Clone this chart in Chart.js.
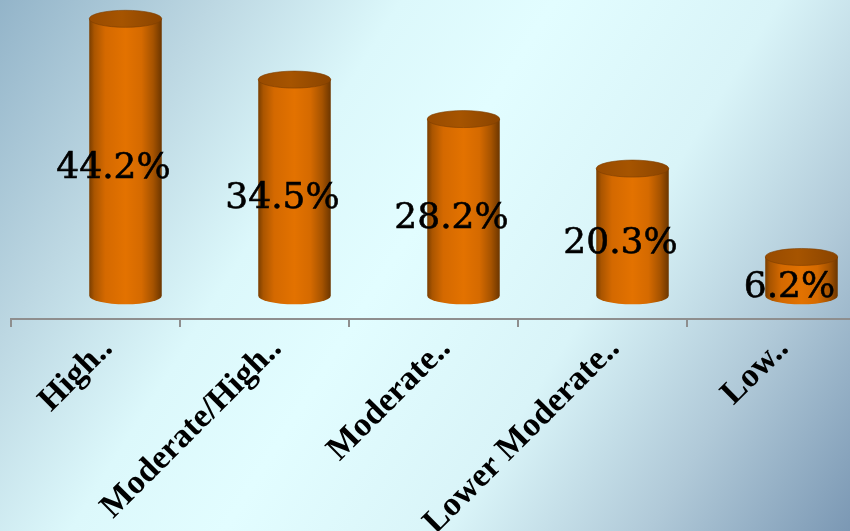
<!DOCTYPE html>
<html>
<head>
<meta charset="utf-8">
<script src="https://cdn.jsdelivr.net/npm/chart.js@4.4.1/dist/chart.umd.min.js"></script>
<style>
  html, body { margin: 0; padding: 0; background: #dff9fc; overflow: hidden; }
  #wrap { width: 850px; height: 531px; position: relative; overflow: hidden; }
  canvas { display: block; }
</style>
</head>
<body>
<div id="wrap"><canvas id="c" width="856" height="531"></canvas></div>
<script>
// ---- data ----
const categories = ['High..', 'Moderate/High..', 'Moderate..', 'Lower Moderate..', 'Low..'];
const values = [44.2, 34.5, 28.2, 20.3, 6.2];
const valueLabels = ['44.2%', '34.5%', '28.2%', '20.3%', '6.2%'];

// ---- plugins ----
const backgroundPlugin = {
  id: 'bg',
  beforeDraw(chart) {
    const { ctx } = chart;
    const width = 850, height = 531;
    const g = ctx.createLinearGradient(0, 0, width, height);
    g.addColorStop(0, '#93b4c9');
    g.addColorStop(0.18, '#bcd7e2');
    g.addColorStop(0.34, '#dcf8fb');
    g.addColorStop(0.47, '#e2fdff');
    g.addColorStop(0.66, '#d9f4f8');
    g.addColorStop(0.83, '#b0c9d8');
    g.addColorStop(1, '#7b98b4');
    ctx.save();
    ctx.fillStyle = g;
    ctx.fillRect(0, 0, chart.width, chart.height);
    ctx.restore();
  }
};

const DEPTH_SHIFT = 30;
const cylinderPlugin = {
  id: 'cyl',
  afterDatasetsDraw(chart) {
    const { ctx } = chart;
    const meta = chart.getDatasetMeta(0);
    ctx.save();
    meta.data.forEach((el) => {
      const cx = el.x + DEPTH_SHIFT;
      const rx = el.width / 2;
      const ry = 8.5;
      const top = el.y;
      const base = el.base;
      // body
      const g = ctx.createLinearGradient(cx - rx, 0, cx + rx, 0);
      g.addColorStop(0, '#7a3e00');
      g.addColorStop(0.07, '#aa5500');
      g.addColorStop(0.22, '#d46900');
      g.addColorStop(0.5, '#e37200');
      g.addColorStop(0.72, '#d56a00');
      g.addColorStop(0.88, '#a65300');
      g.addColorStop(1, '#6c3600');
      ctx.beginPath();
      ctx.moveTo(cx - rx, top);
      ctx.lineTo(cx - rx, base);
      ctx.ellipse(cx, base, rx, ry, 0, Math.PI, 0, true);
      ctx.lineTo(cx + rx, top);
      ctx.closePath();
      ctx.fillStyle = g;
      ctx.fill();
      // top cap
      const tg = ctx.createLinearGradient(cx - rx, 0, cx + rx, 0);
      tg.addColorStop(0, '#984b00');
      tg.addColorStop(0.45, '#a65400');
      tg.addColorStop(1, '#8a4400');
      ctx.beginPath();
      ctx.ellipse(cx, top, rx, ry, 0, 0, Math.PI * 2);
      ctx.fillStyle = tg;
      ctx.fill();
      ctx.lineWidth = 1;
      ctx.strokeStyle = 'rgba(125,62,0,0.6)';
      ctx.stroke();
    });
    // value labels
    ctx.fillStyle = '#000';
    ctx.strokeStyle = '#000';
    ctx.lineWidth = 0.6;
    ctx.font = '36px "DejaVu Serif"';
    ctx.textAlign = 'center';
    ctx.textBaseline = 'middle';
    meta.data.forEach((el, i) => {
      const x = el.x + 18, y = (el.y + el.base) / 2 + 11;
      ctx.fillText(valueLabels[i], x, y);
      ctx.strokeText(valueLabels[i], x, y);
    });
    ctx.restore();
  }
};

new Chart(document.getElementById('c'), {
  type: 'bar',
  data: {
    labels: categories,
    datasets: [{
      data: values,
      backgroundColor: 'rgba(0,0,0,0)',
      borderWidth: 0,
      categoryPercentage: 1,
      barPercentage: 0.429
    }]
  },
  options: {
    responsive: false,
    animation: false,
    devicePixelRatio: 1,
    layout: { padding: { left: 11, right: 0, top: 0, bottom: 0 } },
    plugins: { legend: { display: false }, tooltip: { enabled: false } },
    scales: {
      x: {
        offset: true,
        grid: { offset: true, drawOnChartArea: false, drawTicks: true, tickLength: 8, color: '#8e8e8e', lineWidth: 2 },
        border: { display: true, color: '#8e8e8e', width: 2 },
        ticks: {
          autoSkip: false,
          minRotation: 45,
          maxRotation: 45,
          padding: 2,
          labelOffset: 12,
          color: '#000',
          font: { family: '"Liberation Serif"', weight: 'bold', size: 34 }
        },
        afterFit(scale) { scale.height = 212; }
      },
      y: { display: false, min: -3.7, max: 47.2 }
    }
  },
  plugins: [backgroundPlugin, cylinderPlugin]
});
</script>
</body>
</html>
